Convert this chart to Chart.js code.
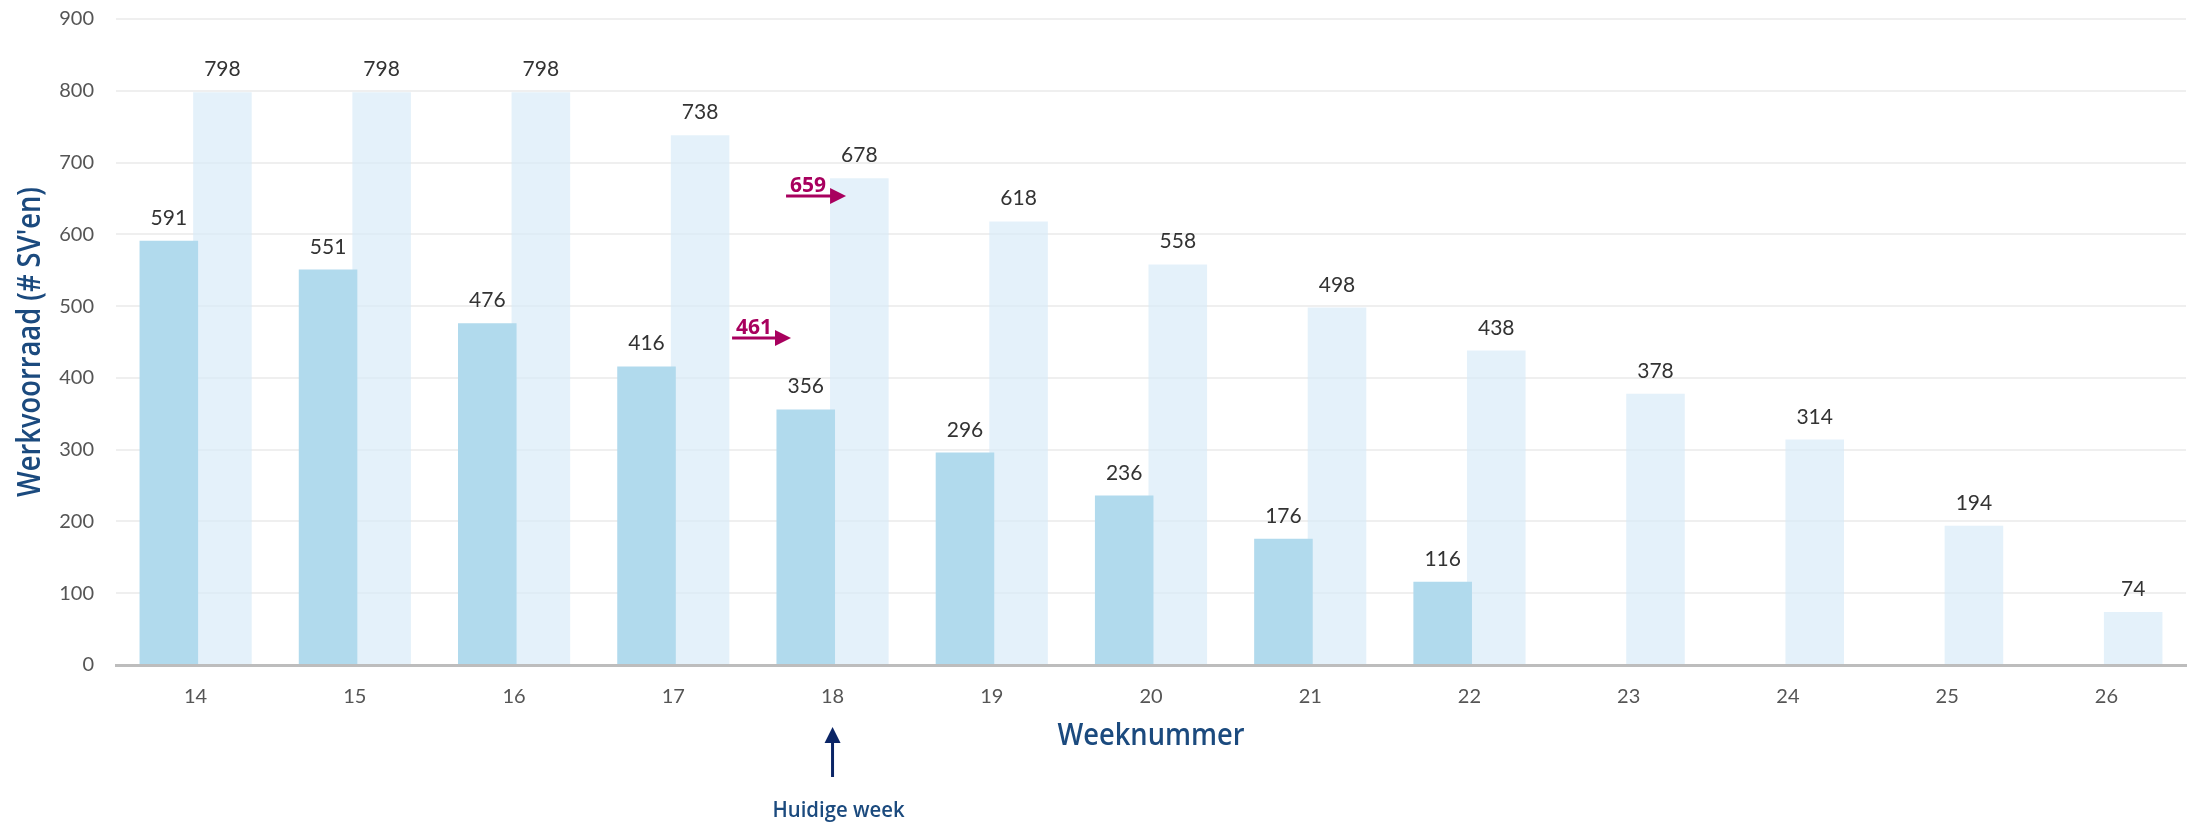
<!DOCTYPE html>
<html>
<head>
<meta charset="utf-8">
<script src="https://cdn.jsdelivr.net/npm/chart.js@4.4.1/dist/chart.umd.min.js"></script>
<style>
  html, body { margin: 0; padding: 0; background: #ffffff; }
  #wrap { width: 2209px; height: 822px; position: relative; }
</style>
</head>
<body>
<div id="wrap"><canvas id="c" width="2209" height="822"></canvas></div>
<script>
// ---- data ----
const weeks = ['14', '15', '16', '17', '18', '19', '20', '21', '22', '23', '24', '25', '26'];
const actualStock = [591, 551, 476, 416, 356, 296, 236, 176, 116, null, null, null, null];
const plannedStock = [798, 798, 798, 738, 678, 618, 558, 498, 438, 378, 314, 194, 74];
const yTickValues = [0, 100, 200, 300, 400, 500, 600, 700, 800, 900];
const currentWeek = '18';
const markerValues = [461, 659];
const markerLabels = ['461', '659'];
const yTitle = "Werkvoorraad (# SV'en)";
const xTitle = 'Weeknummer';
const currentWeekLabel = 'Huidige week';

// ---- styles ----
const FONT = "Lato, 'Open Sans', sans-serif";
const DARK_BAR = '#B1DAED';
const LIGHT_BAR = 'rgba(214,234,247,0.65)';
const TITLE_BLUE = '#1B4A7E';
const NAVY = '#0B2566';
const MAGENTA = '#A8005E';

function fitText(ctx, text, x, y, targetW, rotate) {
  ctx.save();
  ctx.translate(x, y);
  if (rotate) ctx.rotate(-Math.PI / 2);
  const w = ctx.measureText(text).width;
  ctx.scale(targetW / w, 1);
  ctx.textAlign = 'center';
  ctx.fillText(text, 0, 0);
  ctx.restore();
}

const valueLabels = {
  id: 'valueLabels',
  afterDatasetsDraw(chart) {
    const ctx = chart.ctx;
    ctx.save();
    ctx.font = '21px ' + FONT;
    ctx.fillStyle = '#333333';
    ctx.textAlign = 'center';
    ctx.textBaseline = 'alphabetic';
    chart.data.datasets.forEach((ds, di) => {
      const meta = chart.getDatasetMeta(di);
      meta.data.forEach((el, i) => {
        const v = ds.data[i];
        if (v === null || v === undefined) return;
        ctx.fillText(String(v), el.x, el.y - 16);
      });
    });
    ctx.restore();
  }
};

const annotations = {
  id: 'annotations',
  afterDraw(chart) {
    const ctx = chart.ctx;
    const xs = chart.scales.x, ys = chart.scales.y;
    const area = chart.chartArea;
    const idx = weeks.indexOf(currentWeek);
    const cx = xs.getPixelForValue(idx);
    const catW = (area.right - area.left) / weeks.length;

    // axis titles
    ctx.save();
    ctx.fillStyle = TITLE_BLUE;
    ctx.textBaseline = 'middle';
    ctx.font = "600 33px 'Open Sans', sans-serif";
    fitText(ctx, yTitle, 31, (area.top + area.bottom) / 2, 310, true);
    ctx.textBaseline = 'alphabetic';
    ctx.font = "600 30px 'Open Sans', sans-serif";
    fitText(ctx, xTitle, (area.left + area.right) / 2, 745, 187, false);

    // current week arrow
    ctx.strokeStyle = NAVY;
    ctx.fillStyle = NAVY;
    ctx.lineWidth = 3;
    ctx.beginPath();
    ctx.moveTo(cx, 777);
    ctx.lineTo(cx, 740);
    ctx.stroke();
    ctx.beginPath();
    ctx.moveTo(cx, 727);
    ctx.lineTo(cx - 8, 743);
    ctx.lineTo(cx + 8, 743);
    ctx.closePath();
    ctx.fill();
    ctx.fillStyle = TITLE_BLUE;
    ctx.font = "600 22px 'Open Sans', sans-serif";
    fitText(ctx, currentWeekLabel, cx + 6, 817, 132, false);

    // magenta markers
    const offs = [[-0.631, -0.261], [-0.292, 0.085]];
    markerValues.forEach((v, i) => {
      const y = ys.getPixelForValue(v) + 4;
      const x0 = cx + offs[i][0] * catW;
      const x1 = cx + offs[i][1] * catW;
      ctx.strokeStyle = MAGENTA;
      ctx.fillStyle = MAGENTA;
      ctx.lineWidth = 3;
      ctx.beginPath();
      ctx.moveTo(x0, y);
      ctx.lineTo(x1 - 14, y);
      ctx.stroke();
      ctx.beginPath();
      ctx.moveTo(x1, y);
      ctx.lineTo(x1 - 16, y - 8);
      ctx.lineTo(x1 - 16, y + 8);
      ctx.closePath();
      ctx.fill();
      ctx.font = "700 21px 'Open Sans', sans-serif";
      ctx.textAlign = 'left';
      ctx.textBaseline = 'alphabetic';
      ctx.fillText(markerLabels[i], x0 + 4, y - 4);
    });
    ctx.restore();
  }
};

new Chart(document.getElementById('c'), {
  type: 'bar',
  data: {
    labels: weeks,
    datasets: [
      {
        label: 'Werkvoorraad',
        data: actualStock,
        backgroundColor: DARK_BAR,
        borderWidth: 0,
        categoryPercentage: 0.673,
        barPercentage: 1.093
      },
      {
        label: 'Prognose',
        data: plannedStock,
        backgroundColor: LIGHT_BAR,
        borderWidth: 0,
        categoryPercentage: 0.673,
        barPercentage: 1.093
      }
    ]
  },
  options: {
    responsive: false,
    animation: false,
    devicePixelRatio: 1,
    layout: { padding: { top: 19, right: 23, left: 0, bottom: 0 } },
    plugins: { legend: { display: false }, tooltip: { enabled: false } },
    scales: {
      x: {
        grid: { display: false, drawTicks: false },
        border: { display: true, color: '#bdbdbd', width: 3 },
        ticks: { color: '#555', font: { family: FONT, size: 20 }, padding: 20, maxRotation: 0 },
        afterFit(s) { s.height = 157; s.paddingLeft = 0; s.paddingRight = 0; }
      },
      y: {
        min: 0,
        max: 900,
        afterBuildTicks(s) { s.ticks = yTickValues.map(v => ({ value: v })); },
        grid: { color: '#efefef', lineWidth: 2, drawTicks: false },
        border: { display: false },
        ticks: { color: '#555', font: { family: FONT, size: 20 }, padding: 22 },
        afterFit(s) { s.width = 116; s.paddingTop = 0; s.paddingBottom = 0; }
      }
    }
  },
  plugins: [valueLabels, annotations]
});
</script>
</body>
</html>
